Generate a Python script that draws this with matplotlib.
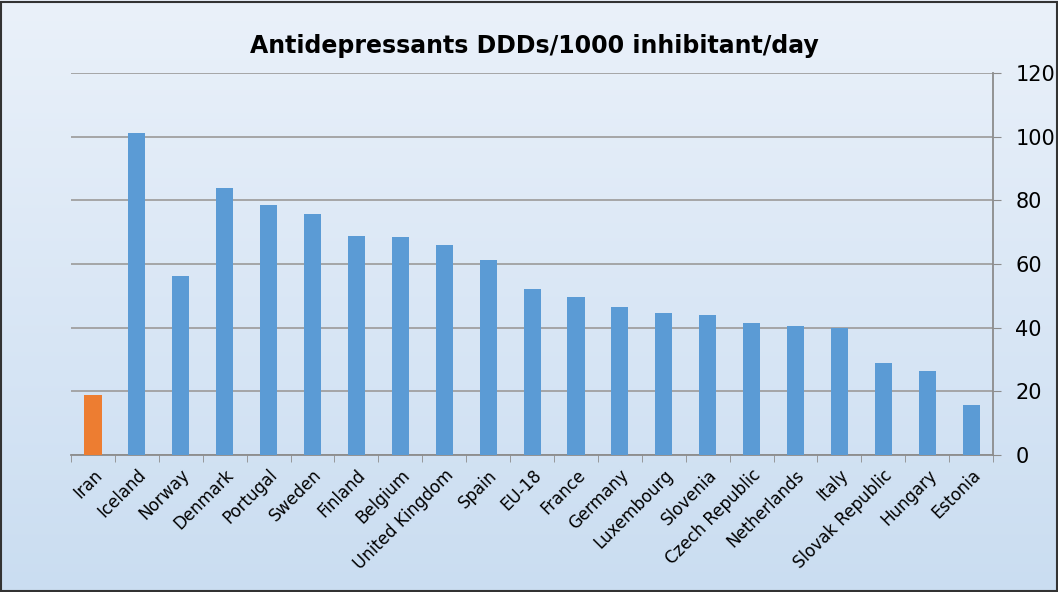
import numpy as np
import matplotlib.pyplot as plt
from matplotlib.patches import Rectangle

# data
countries = ['Iran', 'Iceland', 'Norway', 'Denmark', 'Portugal', 'Sweden', 'Finland',
             'Belgium', 'United Kingdom', 'Spain', 'EU-18', 'France', 'Germany',
             'Luxembourg', 'Slovenia', 'Czech Republic', 'Netherlands', 'Italy',
             'Slovak Republic', 'Hungary', 'Estonia']
ddds = [18.9, 101.0, 56.3, 83.8, 78.5, 75.7, 68.7, 68.6, 65.9, 61.2, 52.3, 49.6,
        46.5, 44.5, 44.0, 41.5, 40.5, 40.0, 28.8, 26.3, 15.7]
highlight = 'Iran'
y_ticks = [0, 20, 40, 60, 80, 100, 120]

blue = '#5b9bd5'
orange = '#ed7d31'
colors = [orange if c == highlight else blue for c in countries]

fig = plt.figure(figsize=(10.58, 5.92), dpi=100)

# gradient background over the whole figure
bg = fig.add_axes([0, 0, 1, 1], zorder=-10)
grad = np.linspace(0, 1, 256).reshape(-1, 1)
top = np.array([0.918, 0.945, 0.980])
bottom = np.array([0.792, 0.867, 0.945])
img = top + (bottom - top) * grad[:, :, None]
bg.imshow(img, aspect='auto', extent=[0, 1, 0, 1], origin='upper')
bg.axis('off')
fig.patches.append(Rectangle((0.001, 0.002), 0.998, 0.995, transform=fig.transFigure,
                             fill=False, edgecolor='#333333', linewidth=1.5))

ax = fig.add_axes([0.0671, 0.2314, 0.8716, 0.6453])
ax.set_facecolor('none')
x = np.arange(len(countries))
ax.bar(x, ddds, width=0.39, color=colors, zorder=3)

ax.set_xlim(-0.5, len(countries) - 0.5)
ax.set_ylim(0, 120)
ax.yaxis.tick_right()
ax.set_yticks(y_ticks)
ax.tick_params(axis='y', labelsize=15, length=6, color='#8c8c8c', pad=10)
ax.grid(axis='y', color='#a0a0a0', linewidth=1.3, zorder=0)

ax.set_xticks(x)
ax.set_xticklabels(countries, rotation=45, ha='right', rotation_mode='anchor', fontsize=12)
ax.tick_params(axis='x', which='major', length=0, pad=8)
ax.set_xticks(np.arange(-0.5, len(countries), 1), minor=True)
ax.tick_params(axis='x', which='minor', length=5, color='#8c8c8c')

for s in ['top', 'left']:
    ax.spines[s].set_visible(False)
ax.spines['bottom'].set_color('#8c8c8c')
ax.spines['right'].set_color('#8c8c8c')
ax.spines['bottom'].set_linewidth(1.3)
ax.spines['right'].set_linewidth(1.3)

fig.text(0.505, 0.922, 'Antidepressants DDDs/1000 inhibitant/day', ha='center', va='center',
         fontsize=17, fontweight='bold')

fig.savefig('out.png', dpi=100)
